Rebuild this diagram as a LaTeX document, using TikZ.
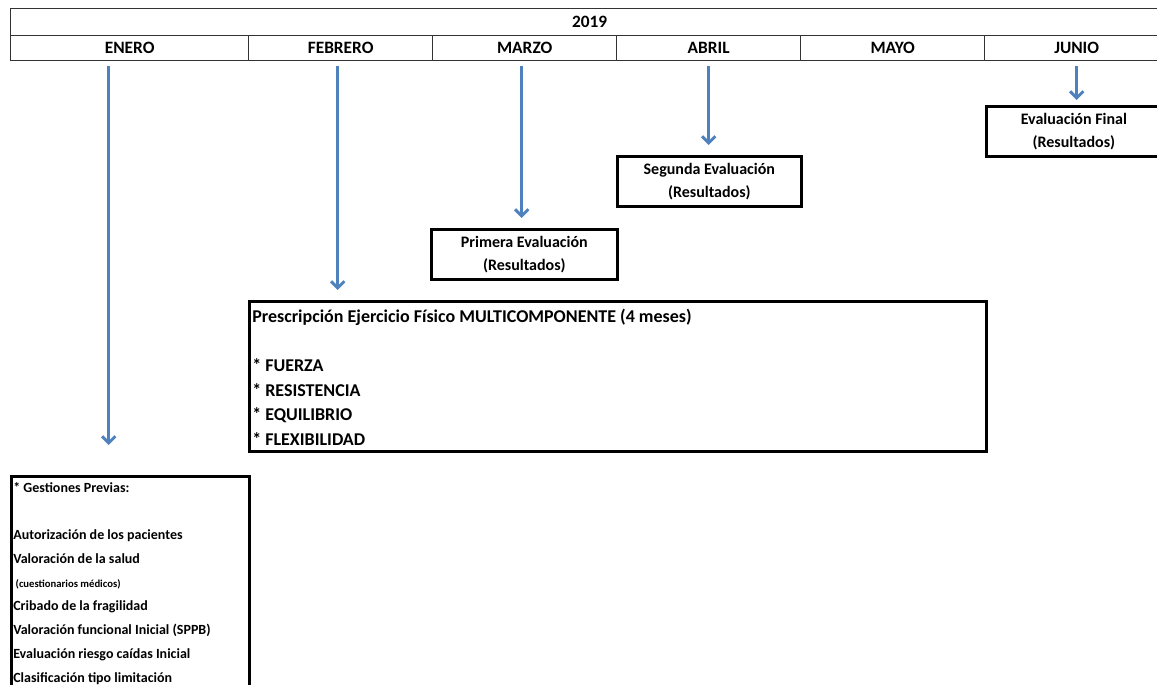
\documentclass[tikz,border=0pt]{standalone}
\usepackage{fontspec}
\setmainfont{Carlito}
\usetikzlibrary{arrows.meta}
\definecolor{arrowblue}{RGB}{79,129,189}
\begin{document}
\begin{tikzpicture}[x=0.75pt,y=-0.75pt,>={Straight Barb[length=5pt,width=10pt]}]
		        \tikzstyle{cell}=[draw=black!80,line width=1pt,inner sep=0pt,anchor=north west,minimum height=18.75pt,font=\bfseries\fontsize{13}{15}\selectfont]
		        \tikzstyle{box}=[draw=black,line width=2pt,inner sep=0pt,anchor=north west]
		        \tikzstyle{boxtext}=[align=center,font=\bfseries\fontsize{12}{17.25}\selectfont]
		        \tikzstyle{edge}=[draw=arrowblue,line width=2.2pt,->,shorten <=3.75pt,shorten >=7.5pt]
		    	\useasboundingbox (0,0) rectangle (1157,685);
			         % header
			         \node [cell,minimum width=868.5pt,minimum height=20.25pt] (year) at (10,8) {2019};
			         \node [cell,minimum width=178.5pt] (enero) at (10,35) {ENERO};
			         \node [cell,minimum width=138pt] (febrero) at (248,35) {FEBRERO};
			         \node [cell,minimum width=138pt] (marzo) at (432,35) {MARZO};
			         \node [cell,minimum width=138pt] (abril) at (616,35) {ABRIL};
			         \node [cell,minimum width=138pt] (mayo) at (800,35) {MAYO};
			         \node [cell,minimum width=138pt] (junio) at (984,35) {JUNIO};

			         % evaluaciones
			         \node [box,boxtext,minimum width=139.5pt,minimum height=37.5pt] (primera) at (430,228) {Primera Evaluación\\(Resultados)};
			         \node [box,boxtext,minimum width=138pt,minimum height=37.5pt] (segunda) at (616,155) {Segunda Evaluación\\(Resultados)};
			         \node [box,boxtext,minimum width=131.25pt,minimum height=37.5pt] (final) at (985,105) {Evaluación Final\\(Resultados)};

			         % ejercicio
			         \node [box,minimum width=552.75pt,minimum height=112.5pt] (presc) at (248,300) {};
			         \node [anchor=north west,inner sep=0pt,align=left,font=\bfseries\fontsize{13.5}{18.4}\selectfont] (presctext) at (252,309)
			               {Prescripción Ejercicio Físico MULTICOMPONENTE (4 meses)\\[18.4pt]
			                * FUERZA\\* RESISTENCIA\\* EQUILIBRIO\\* FLEXIBILIDAD};

			         % gestiones previas
			         \node [box,minimum width=178.5pt,minimum height=180pt] (gestiones) at (10,475) {};
			         \node [anchor=north west,inner sep=0pt,align=left,font=\bfseries\fontsize{10.5}{17.8}\selectfont] (gesttext) at (13,482)
			               {* Gestiones Previas:\\[17.8pt]
			                Autorización de los pacientes\\Valoración de la salud\\
			                {\fontsize{8}{17.8}\selectfont\ (cuestionarios médicos)}\\
			                Cribado de la fragilidad\\Valoración funcional Inicial (SPPB)\\
			                Evaluación riesgo caídas Inicial\\Clasificación tipo limitación};

			         % flechas
			         \path[edge,shorten >=22.5pt] ([xshift=-15.75pt]enero.south) to ([xshift=-15.75pt]enero.south |- gestiones.north);
			         \path[edge] ([xshift=-2.25pt]febrero.south) to ([xshift=-2.25pt]febrero.south |- presc.north);
			         \path[edge] ([xshift=-2.25pt]marzo.south) to ([xshift=-2.25pt]marzo.south |- primera.north);
			         \path[edge] (abril.south) to (abril.south |- segunda.north);
			         \path[edge,shorten >=3.75pt] (junio.south) to (junio.south |- final.north);
\end{tikzpicture}
\end{document}
